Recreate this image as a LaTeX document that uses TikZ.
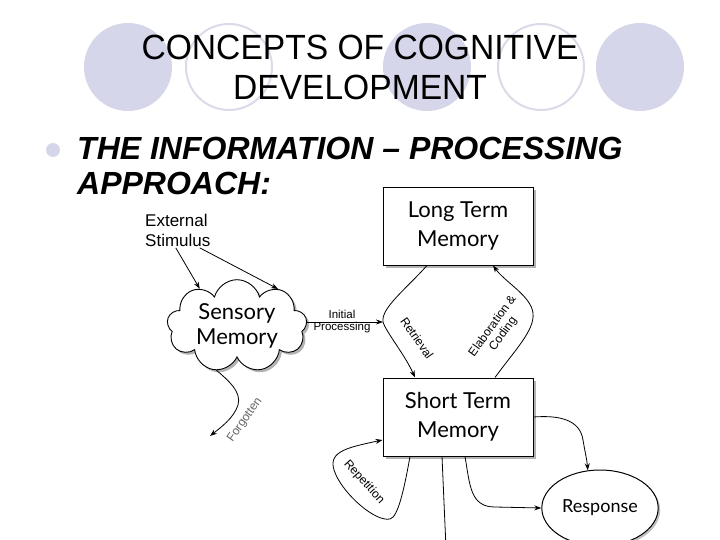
\documentclass[tikz,border=0pt]{standalone}
\usepackage{fontspec}
\setmainfont{Liberation Sans}
\newfontfamily\gillfont{Lato}
\newfontfamily\titlefont[FakeStretch=0.96]{Liberation Sans}
\usetikzlibrary{shapes.symbols,shapes.geometric,shadows,arrows.meta}
\definecolor{lav}{RGB}{214,214,234}
\definecolor{lavline}{RGB}{218,218,232}
\begin{document}
\begin{tikzpicture}[x=1pt,y=-1pt,
  arr/.style={-{Stealth[length=7pt,width=5pt]},line width=0.8pt},
  plain/.style={line width=0.8pt},
  boxnode/.style={draw,line width=1pt,fill=white,align=center,
    font=\gillfont\fontsize{22}{29}\selectfont,
    drop shadow={shadow xshift=2.5pt,shadow yshift=-2.5pt,opacity=0.6}},
  lbl/.style={font=\fontsize{12}{13}\selectfont,inner sep=0pt},
]
\useasboundingbox (0,0) rectangle (720,540);
\clip (0,0) rectangle (720,540);
% background circles
\fill[lav] (128,67) circle (44pt);
\draw[lavline,line width=2pt] (229,67) circle (43pt);
\fill[lav] (427,67) circle (44pt);
\draw[lavline,line width=2pt] (541,67) circle (43pt);
\fill[lav] (640,67) circle (44pt);
% title
\node[font=\titlefont\fontsize{35}{40}\selectfont,align=center,inner sep=0pt] (title) at (360,67) {CONCEPTS OF COGNITIVE\\DEVELOPMENT};
% bullet
\fill[lav] (53,150) circle (7pt);
\node[anchor=base west,inner sep=0pt,font=\bfseries\itshape\fontsize{32}{35}\selectfont] (head1) at (77,160) {THE INFORMATION – PROCESSING};
\node[anchor=base west,inner sep=0pt,font=\bfseries\itshape\fontsize{32}{35}\selectfont] (head2) at (77,195) {APPROACH:};
% diagram nodes
\node[anchor=north west,align=left,inner sep=0pt,font=\fontsize{17}{20}\selectfont] (ext) at (145,214) {External\\Stimulus};
\node[cloud,cloud puffs=9,aspect=2,draw,line width=0.9pt,fill=white,
  drop shadow={shadow xshift=2.5pt,shadow yshift=-2.5pt,opacity=0.6},
  minimum width=140pt,minimum height=72pt,inner sep=0pt,align=center,
  font=\gillfont\fontsize{22}{25}\selectfont] (sm) at (237,326) {Sensory\\Memory};
\node[boxnode,minimum width=150pt,minimum height=77pt] (ltm) at (458,226.5) {Long Term\\Memory};
\node[boxnode,minimum width=150pt,minimum height=78pt] (stm) at (458,417) {Short Term\\Memory};
\node[ellipse,draw,line width=1pt,fill=white,minimum width=110pt,minimum height=76pt,
  drop shadow={shadow xshift=2pt,shadow yshift=-2pt,opacity=0.5},
  font=\gillfont\fontsize{18}{20}\selectfont] (resp) at (600,508) {Response};
\coordinate (ret) at (383,322);
\coordinate (down) at (446,548);
% connectors
\draw[arr] ([xshift=-2pt,yshift=-1pt]ext.south) -- (sm.135);
\draw[arr] ([xshift=22pt,yshift=-1pt]ext.south) -- (sm.42);
\draw[arr] (sm.east |- ret) -- (ret);
\node[lbl,font=\fontsize{11.5}{13}\selectfont] (initl) at (342,314) {Initial};
\node[lbl,font=\fontsize{11.5}{13}\selectfont] (procl) at (342,328) {Processing};
\draw[arr] ([xshift=-31pt]ltm.south) .. controls (405,290) and (381,308) .. (ret)
   .. controls (386,332) and (405,355) .. ([xshift=-43pt]stm.north);
\draw[arr] ([xshift=37pt]stm.north) .. controls (515,350) and (535,330) .. (533,313)
   .. controls (531,296) and (505,282) .. ([xshift=35pt]ltm.south);
\node[lbl,rotate=-55] (retl) at (417,338) {Retrieval};
\node[lbl,rotate=54,align=center,font=\fontsize{12}{13}\selectfont] (elabl) at (498,330) {Elaboration \&\\Coding};
\draw[arr] (sm.-115) .. controls (228,380) and (242,392) .. (238,405)
   .. controls (234,418) and (220,428) .. (210,436);
\node[lbl,rotate=55,text=black!60] (forgl) at (245,420) {Forgotten};
\draw[arr] ([xshift=-48pt]stm.south) .. controls (404,490) and (398,517) .. (390,519)
   .. controls (375,522) and (345,495) .. (336,475)
   .. controls (325,452) and (345,448) .. ([yshift=-23pt]stm.west);
\node[lbl,rotate=-48] (repl) at (364,482) {Repetition};
\draw[arr] (stm.east) .. controls (560,415) and (580,420) .. (583,440)
   .. controls (585,452) and (587,460) .. (resp.108);
\draw[arr] ([xshift=7pt]stm.south) .. controls (470,485) and (470,507) .. (495,507) -- (resp.west);
\draw[plain] ([xshift=-16pt]stm.south) -- (down);
\end{tikzpicture}
\end{document}
